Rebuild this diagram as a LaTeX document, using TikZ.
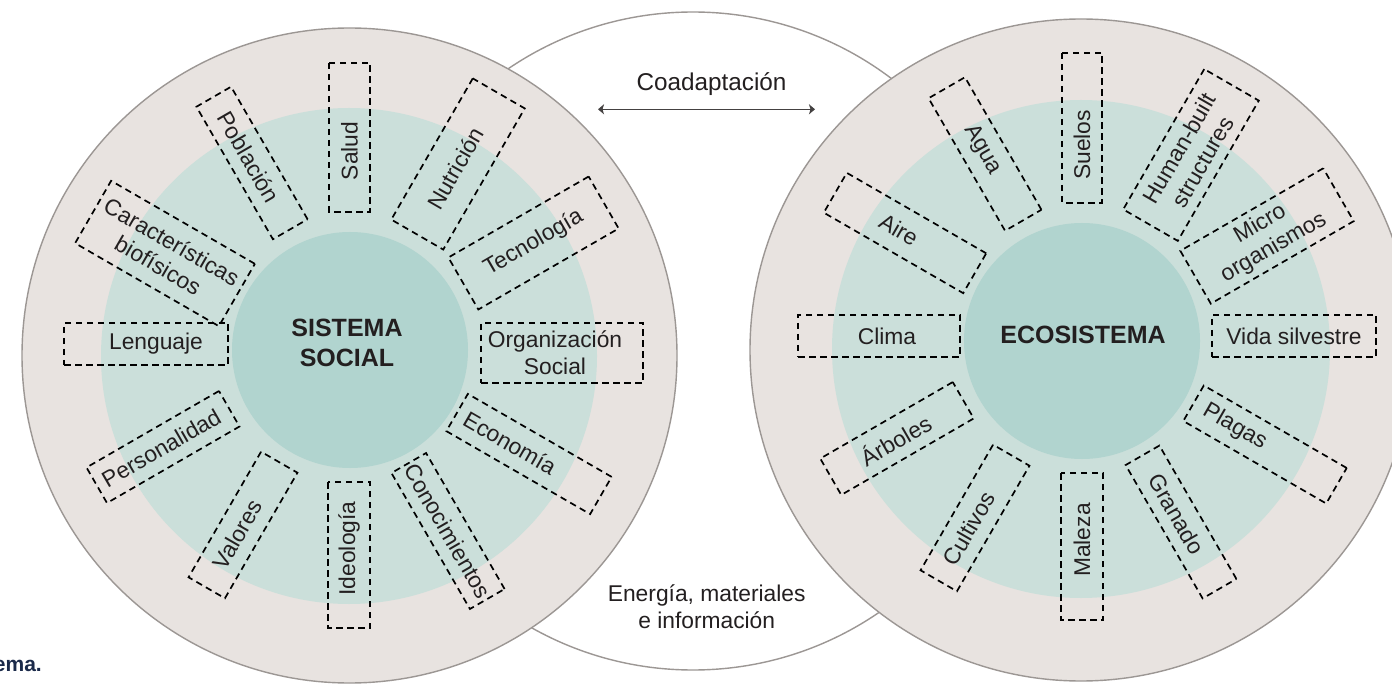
\documentclass[tikz,border=0pt]{standalone}
\usepackage{fontspec}
\setmainfont{Liberation Sans}
\usetikzlibrary{calc,arrows.meta}
\definecolor{beige}{HTML}{E8E3E0}
\definecolor{tealA}{HTML}{CBDFDA}
\definecolor{tealB}{HTML}{B1D4CF}
\definecolor{ringgray}{HTML}{9C9794}
\definecolor{txt}{HTML}{231F20}
\definecolor{navy}{HTML}{1B2A4A}
\tikzset{
  ring/.style={circle, inner sep=0pt, draw=ringgray, line width=1.4pt},
  disk/.style={circle, inner sep=0pt},
  dashbox/.style={rectangle, draw=black, dash pattern=on 6.5pt off 4.5pt, line width=1.7pt, inner sep=0pt},
  lbl/.style={font=\fontsize{22.8}{27}\selectfont, text=txt, align=center, inner sep=0pt},
  ttl/.style={font=\bfseries\fontsize{25}{30}\selectfont, text=txt, align=center, inner sep=0pt},
}
\newcommand{\radbox}[8]{%
  \node[dashbox, rotate=#4, minimum width=#5pt, minimum height=#6pt] (#1) at (#2,#3) {};
  \node[lbl, rotate=#4] (#1t) at ($(#1.center)!#8pt!(#1.east)$) {#7};
}
\begin{document}
\begin{tikzpicture}[x=1pt,y=-1pt]
\useasboundingbox (0,0) rectangle (1392,684);
\clip (0,0) rectangle (1392,684);
\fill[white] (0,0) rectangle (1392,684);
% circles
\node[ring, fill=white, minimum size=658pt] (M) at (693,341) {};
\node[ring, fill=beige, minimum size=655pt] (L) at (349.5,355.5) {};
\node[ring, fill=beige, minimum size=662pt] (R) at (1081,350) {};
\node[disk, fill=tealA, minimum size=496pt] (Lm) at (349,356) {};
\node[disk, fill=tealB, minimum size=236pt] (Lc) at (350,350) {};
\node[disk, fill=tealA, minimum size=498pt] (Rm) at (1081,349) {};
\node[disk, fill=tealB, minimum size=236pt] (Rc) at (1082,341) {};
% titles
\node[ttl] (ss) at (347,343) {SISTEMA\\SOCIAL};
\node[ttl] (es) at (1083,334.5) {ECOSISTEMA};
% left boxes
\radbox{sal}{349.5}{137.5}{90}{149}{41}{Salud}{-13.5}
\radbox{nut}{458}{164}{60}{163}{60}{Nutrición}{-5}
\radbox{tec}{533.5}{243}{30}{162}{60}{Tecnología}{0}
\radbox{org}{562}{353}{0}{162}{60}{Organización\\Social}{-7}
\radbox{eco}{529}{454}{-30}{166}{43}{Economía}{-22}
\radbox{con}{448}{531}{-60}{157}{40}{Conocimientos}{0}
\radbox{ide}{349}{555}{90}{146}{42}{Ideología}{6.5}
\radbox{val}{243}{525}{60}{145}{42}{Valores}{-11}
\radbox{per}{163}{447}{30}{153}{41}{Personalidad}{-2}
\radbox{len}{146}{344}{0}{164}{42}{Lenguaje}{10}
\radbox{car}{165}{253.5}{-30}{166}{72}{Características\\biofísicos}{0}
\radbox{pob}{252}{163}{-60}{153}{40}{Población}{-7}
% right boxes
\radbox{sue}{1082}{128}{90}{150}{40}{Suelos}{-17}
\radbox{hum}{1191}{155}{60}{162}{63}{Human-built\\structures}{0}
\radbox{mic}{1267}{236}{30}{165}{61}{Micro\\organismos}{0}
\radbox{vid}{1294}{336}{0}{164}{42}{Vida silvestre}{0}
\radbox{pla}{1265}{444.5}{-30}{165}{41}{Plagas}{-35}
\radbox{gra}{1181}{522}{-60}{154}{39}{Granado}{-9}
\radbox{mal}{1082}{546.5}{90}{147}{42}{Maleza}{6.5}
\radbox{cul}{975}{518}{60}{145}{42}{Cultivos}{-12}
\radbox{arb}{897}{438.5}{30}{153}{42}{Árboles}{-2}
\radbox{cli}{879}{336}{0}{162}{42}{Clima}{8}
\radbox{air}{905}{233}{-30}{161}{46}{Aire}{-7}
\radbox{agu}{985}{154}{-60}{153}{42}{Agua}{-5}
% middle texts
\node[lbl, font=\fontsize{24.3}{28}\selectfont, anchor=base] (coa) at (711.5,90.7) {Coadaptación};
\coordinate (aL) at (598,109.3);
\coordinate (aR) at (815,109.3);
\draw[{Stealth[length=6pt,width=10pt,inset=1.5pt]}-{Stealth[length=6pt,width=10pt,inset=1.5pt]}, line width=1.2pt, draw=txt!85] (aL) -- (aR);
\node[lbl] (emi) at (706.7,607) {Energía, materiales\\e información};
% caption fragment
\node[font=\bfseries\fontsize{21}{24}\selectfont, text=navy, anchor=base east, inner sep=0pt] (cap) at (42,671) {ema.};
\end{tikzpicture}
\end{document}
